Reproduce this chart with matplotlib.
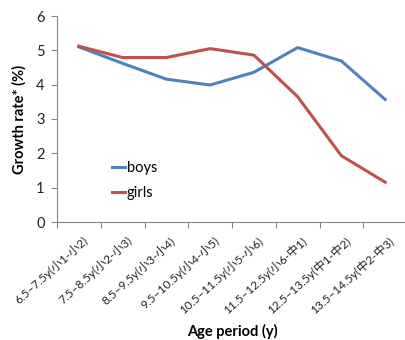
import numpy as np
import matplotlib
matplotlib.use("Agg")
import matplotlib.pyplot as plt

plt.rcParams['font.family'] = ['Lato', 'Noto Sans CJK SC', 'DejaVu Sans']

periods = ["6.5–7.5y(小1-小2)", "7.5–8.5y(小2-小3)", "8.5–9.5y(小3-小4)",
           "9.5–10.5y(小4-小5)", "10.5–11.5y(小5-小6)", "11.5–12.5y(小6-中1)",
           "12.5–13.5y(中1-中2)", "13.5–14.5y(中2-中3)"]
boys = [5.1, 4.62, 4.16, 3.99, 4.36, 5.08, 4.69, 3.57]
girls = [5.12, 4.79, 4.79, 5.05, 4.86, 3.65, 1.93, 1.16]

fig = plt.figure(figsize=(4.05, 3.4), dpi=100)
ax = fig.add_axes([57/405, 118/340, 350/405, 206/340])

x = np.arange(len(periods))
ax.plot(x, boys, color="#4F81BD", lw=2.2, label="boys")
ax.plot(x, girls, color="#C0504D", lw=2.2, label="girls")

ax.set_xlim(-0.5, len(periods) - 0.5)
ax.set_ylim(0, 6)
ax.set_yticks(range(0, 7))
ax.set_xticks(x + 0.08)
ax.set_xticklabels(periods, rotation=42, ha="right", rotation_mode="anchor",
                   fontsize=8.6, color="#222222")
ax.set_xticks(np.arange(-0.5, len(periods), 1), minor=True)
ax.tick_params(axis="x", which="major", length=0, pad=9)
ax.tick_params(axis="x", which="minor", length=4, color="#868686", width=0.8)
ax.tick_params(axis="y", length=4, color="#868686", width=0.8, labelsize=10.5,
               labelcolor="#222222", pad=5)

for s in ("top", "right"):
    ax.spines[s].set_visible(False)
for s in ("left", "bottom"):
    ax.spines[s].set_color("#868686")
    ax.spines[s].set_linewidth(0.8)

ax.set_ylabel("Growth rate* (%)", fontsize=10.5, fontweight="bold", labelpad=7)
ax.set_xlabel("Age period (y)", fontsize=10.5, fontweight="bold", labelpad=6)

ax.legend(loc="upper left", bbox_to_anchor=(0.12, 0.36), frameon=False,
          handlelength=0.9, handletextpad=0.1, labelspacing=0.75, fontsize=10.5)

fig.savefig("out.png", dpi=100)
